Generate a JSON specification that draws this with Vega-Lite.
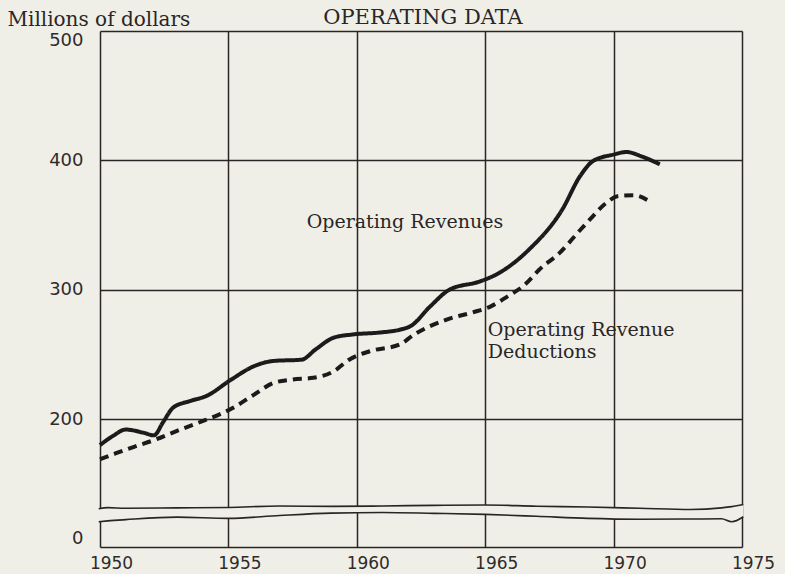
{
  "$schema": "https://vega.github.io/schema/vega-lite/v6.json",
  "width": 642,
  "height": 516,
  "autosize": {"type": "none"},
  "padding": {"left": 100, "top": 31, "right": 43, "bottom": 27},
  "background": "#efefe8",
  "config": {
    "view": {"stroke": null},
    "font": "DejaVu Serif"
  },
  "title": {
    "text": "OPERATING DATA",
    "anchor": "middle",
    "font": "DejaVu Serif",
    "fontSize": 21,
    "fontWeight": "normal",
    "color": "#2a2626",
    "offset": -19,
    "dx": 2
  },
  "datasets": {
    "series": [
      {"year": 1950.0, "value": 180, "series": "Operating Revenues"},
      {"year": 1950.5, "value": 187, "series": "Operating Revenues"},
      {"year": 1951.0, "value": 192, "series": "Operating Revenues"},
      {"year": 1951.7, "value": 189.5, "series": "Operating Revenues"},
      {"year": 1952.1, "value": 187.5, "series": "Operating Revenues"},
      {"year": 1952.45, "value": 197.5, "series": "Operating Revenues"},
      {"year": 1952.85, "value": 209, "series": "Operating Revenues"},
      {"year": 1953.5, "value": 214, "series": "Operating Revenues"},
      {"year": 1954.15, "value": 218, "series": "Operating Revenues"},
      {"year": 1955.1, "value": 230.5, "series": "Operating Revenues"},
      {"year": 1956.0, "value": 241, "series": "Operating Revenues"},
      {"year": 1956.75, "value": 245, "series": "Operating Revenues"},
      {"year": 1957.85, "value": 246, "series": "Operating Revenues"},
      {"year": 1958.4, "value": 254, "series": "Operating Revenues"},
      {"year": 1959.1, "value": 263, "series": "Operating Revenues"},
      {"year": 1959.85, "value": 265.5, "series": "Operating Revenues"},
      {"year": 1960.9, "value": 267, "series": "Operating Revenues"},
      {"year": 1961.7, "value": 269.3, "series": "Operating Revenues"},
      {"year": 1962.1, "value": 272, "series": "Operating Revenues"},
      {"year": 1962.85, "value": 287, "series": "Operating Revenues"},
      {"year": 1963.6, "value": 300, "series": "Operating Revenues"},
      {"year": 1964.8, "value": 306.5, "series": "Operating Revenues"},
      {"year": 1965.4, "value": 311.5, "series": "Operating Revenues"},
      {"year": 1966.7, "value": 331, "series": "Operating Revenues"},
      {"year": 1968.0, "value": 362, "series": "Operating Revenues"},
      {"year": 1968.7, "value": 388, "series": "Operating Revenues"},
      {"year": 1969.2, "value": 399.5, "series": "Operating Revenues"},
      {"year": 1970.0, "value": 404.5, "series": "Operating Revenues"},
      {"year": 1970.5, "value": 406.5, "series": "Operating Revenues"},
      {"year": 1971.1, "value": 403, "series": "Operating Revenues"},
      {"year": 1971.8, "value": 397, "series": "Operating Revenues"},
      {"year": 1950.0, "value": 169, "series": "Operating Revenue Deductions"},
      {"year": 1950.6, "value": 173.5, "series": "Operating Revenue Deductions"},
      {"year": 1951.3, "value": 178.5, "series": "Operating Revenue Deductions"},
      {"year": 1952.2, "value": 184.5, "series": "Operating Revenue Deductions"},
      {"year": 1953.0, "value": 191, "series": "Operating Revenue Deductions"},
      {"year": 1953.8, "value": 197, "series": "Operating Revenue Deductions"},
      {"year": 1955.2, "value": 209, "series": "Operating Revenue Deductions"},
      {"year": 1956.0, "value": 219, "series": "Operating Revenue Deductions"},
      {"year": 1956.75, "value": 228, "series": "Operating Revenue Deductions"},
      {"year": 1957.5, "value": 230.7, "series": "Operating Revenue Deductions"},
      {"year": 1958.3, "value": 232, "series": "Operating Revenue Deductions"},
      {"year": 1959.1, "value": 237, "series": "Operating Revenue Deductions"},
      {"year": 1959.7, "value": 246, "series": "Operating Revenue Deductions"},
      {"year": 1960.5, "value": 252.5, "series": "Operating Revenue Deductions"},
      {"year": 1961.7, "value": 258, "series": "Operating Revenue Deductions"},
      {"year": 1962.2, "value": 265, "series": "Operating Revenue Deductions"},
      {"year": 1963.5, "value": 277, "series": "Operating Revenue Deductions"},
      {"year": 1964.5, "value": 282.5, "series": "Operating Revenue Deductions"},
      {"year": 1965.2, "value": 287, "series": "Operating Revenue Deductions"},
      {"year": 1965.8, "value": 294, "series": "Operating Revenue Deductions"},
      {"year": 1966.6, "value": 305, "series": "Operating Revenue Deductions"},
      {"year": 1967.1, "value": 315.5, "series": "Operating Revenue Deductions"},
      {"year": 1967.9, "value": 328.5, "series": "Operating Revenue Deductions"},
      {"year": 1968.6, "value": 344, "series": "Operating Revenue Deductions"},
      {"year": 1969.2, "value": 357, "series": "Operating Revenue Deductions"},
      {"year": 1969.7, "value": 367, "series": "Operating Revenue Deductions"},
      {"year": 1970.2, "value": 372.5, "series": "Operating Revenue Deductions"},
      {"year": 1970.8, "value": 373, "series": "Operating Revenue Deductions"},
      {"year": 1971.5, "value": 367, "series": "Operating Revenue Deductions"}
    ],
    "axisbreak": [
      {"year": 1949.95, "upper": 91, "lower": 60},
      {"year": 1950.3, "upper": 93.5, "lower": 62},
      {"year": 1951, "upper": 92, "lower": 65},
      {"year": 1953, "upper": 93, "lower": 71},
      {"year": 1955, "upper": 94, "lower": 68},
      {"year": 1957, "upper": 97.5, "lower": 75},
      {"year": 1959, "upper": 96.5, "lower": 80.5},
      {"year": 1961, "upper": 97.5, "lower": 82},
      {"year": 1963, "upper": 99, "lower": 80},
      {"year": 1965, "upper": 100, "lower": 77.5},
      {"year": 1967, "upper": 97, "lower": 73},
      {"year": 1969, "upper": 95, "lower": 68},
      {"year": 1971, "upper": 92, "lower": 66},
      {"year": 1973, "upper": 89, "lower": 66.5},
      {"year": 1974.2, "upper": 93, "lower": 67},
      {"year": 1974.6, "upper": 96, "lower": 60},
      {"year": 1975.05, "upper": 101, "lower": 72}
    ],
    "labels": [
      {"year": 1958.05, "value": 348, "text": "Operating Revenues"},
      {"year": 1965.1, "value": 264.5, "text": "Operating Revenue"},
      {"year": 1965.1, "value": 247.5, "text": "Deductions"}
    ]
  },
  "encoding": {
    "x": {
      "field": "year",
      "type": "quantitative",
      "scale": {"domain": [1950, 1975], "nice": false, "zero": false},
      "axis": {
        "values": [1950, 1955, 1960, 1965, 1970, 1975],
        "format": "d",
        "title": null,
        "grid": true,
        "gridColor": "#2a2424",
        "gridWidth": 1.5,
        "gridOpacity": 1,
        "domain": false,
        "ticks": false,
        "labelFlush": false,
        "labelOffset": 11,
        "labelPadding": 8,
        "labelFont": "DejaVu Sans",
        "labelFontSize": 17,
        "labelColor": "#2f2b2b"
      }
    }
  },
  "layer": [
    {
      "data": {"name": "axisbreak"},
      "mark": {"type": "area", "fill": "#efefe8", "interpolate": "monotone"},
      "encoding": {
        "y": {
          "field": "lower",
          "type": "quantitative",
          "scale": {"domain": [0, 150, 500], "range": [516, 452.9, 0], "nice": false, "zero": false},
          "axis": {
            "values": [0, 200, 300, 400, 500],
            "title": "Millions of dollars",
            "titleAngle": 0,
            "titleAlign": "left",
            "titleBaseline": "alphabetic",
            "titleX": -93,
            "titleY": -6,
            "titleFont": "DejaVu Serif",
            "titleFontSize": 20,
            "titleFontWeight": "normal",
            "titleColor": "#2a2626",
            "grid": true,
            "gridColor": "#2a2424",
            "gridWidth": 1.5,
            "gridOpacity": 1,
            "domain": false,
            "ticks": false,
            "labelFlush": true,
            "labelPadding": 17,
            "labelFont": "DejaVu Sans",
            "labelFontSize": 18,
            "labelColor": "#2f2b2b"
          }
        },
        "y2": {"field": "upper"}
      }
    },
    {
      "data": {"name": "axisbreak"},
      "mark": {"type": "line", "color": "#2a2424", "strokeWidth": 1.6, "interpolate": "monotone"},
      "encoding": {"y": {"field": "upper", "type": "quantitative"}}
    },
    {
      "data": {"name": "axisbreak"},
      "mark": {"type": "line", "color": "#2a2424", "strokeWidth": 1.6, "interpolate": "monotone"},
      "encoding": {"y": {"field": "lower", "type": "quantitative"}}
    },
    {
      "data": {"name": "series"},
      "mark": {"type": "line", "color": "#1c1a1a", "strokeWidth": 4, "interpolate": "monotone"},
      "encoding": {
        "y": {"field": "value", "type": "quantitative"},
        "strokeDash": {
          "field": "series",
          "type": "nominal",
          "scale": {
            "domain": ["Operating Revenues", "Operating Revenue Deductions"],
            "range": [[1, 0], [9, 6]]
          },
          "legend": null
        }
      }
    },
    {
      "data": {"name": "labels"},
      "mark": {
        "type": "text",
        "align": "left",
        "baseline": "alphabetic",
        "font": "DejaVu Serif",
        "fontSize": 19,
        "color": "#2a2626"
      },
      "encoding": {
        "y": {"field": "value", "type": "quantitative"},
        "text": {"field": "text"}
      }
    }
  ]
}
